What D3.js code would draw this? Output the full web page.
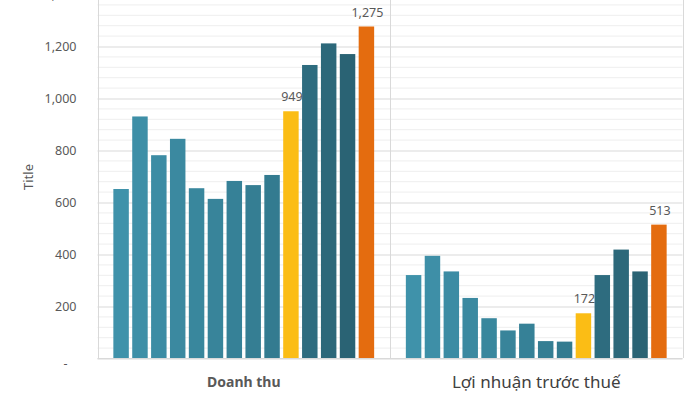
<!DOCTYPE html>
<html>
<head>
<meta charset="utf-8">
<script src="https://d3js.org/d3.v7.min.js"></script>
<style>
  body { margin: 0; background: #fff; }
  svg { display: block; font-family: "Noto Sans", sans-serif; }
</style>
</head>
<body>
<div id="chart"></div>
<script>
// Data
var groups = ["Doanh thu", "Lợi nhuận trước thuế"];
var revenue = [650, 929, 780, 843, 653, 612, 681, 665, 704, 949, 1127, 1210, 1169, 1275];
var profit = [319, 393, 333, 231, 153, 106, 132, 65, 63, 172, 319, 417, 333, 513];
var yTicks = [0, 200, 400, 600, 800, 1000, 1200, 1400];
var labelled = [9, 13]; // bars with a value label

var width = 700, height = 394;
var margin = { top: -6, right: 17.5, bottom: 36, left: 97.5 };
var innerW = width - margin.left - margin.right;

var svg = d3.select("#chart").append("svg")
    .attr("width", width)
    .attr("height", height);

var y = d3.scaleLinear().domain([0, 1400]).range([358, margin.top]);

var x0 = d3.scaleBand()
    .domain(groups)
    .range([margin.left, margin.left + innerW]);

var x1 = d3.scaleBand()
    .domain(d3.range(revenue.length))
    .range([0, x0.bandwidth()])
    .paddingInner(0.18)
    .paddingOuter(0.84);

// bar colours by position
var tealA = d3.interpolateRgb("#3f92aa", "#337b90");
var tealB = d3.interpolateRgb("#2e6c7f", "#2a6374");
function barColor(i) {
    if (i === 9) return "#fbbd15";
    if (i === 13) return "#e46c0f";
    if (i < 9) return tealA(i / 8);
    return tealB((i - 10) / 2);
}

// minor grid lines
var minor = d3.range(0, 1400, 40).filter(function(v) { return v % 200 !== 0; });
svg.append("g").selectAll("line")
    .data(minor)
    .enter().append("line")
    .attr("x1", margin.left).attr("x2", margin.left + innerW)
    .attr("y1", function(d) { return y(d) + 0.5; })
    .attr("y2", function(d) { return y(d) + 0.5; })
    .attr("stroke", "#eeeeee");

// major grid lines + tick labels
var yAxis = d3.axisLeft(y)
    .tickValues(yTicks)
    .tickSize(-innerW)
    .tickPadding(21)
    .tickFormat(function(d) { return d === 0 ? "-" : d3.format(",")(d); });

var gy = svg.append("g")
    .attr("transform", "translate(" + margin.left + ",0.5)")
    .call(yAxis);
gy.select(".domain").remove();
gy.selectAll(".tick line").attr("stroke", "#d9d9d9");
gy.selectAll(".tick text")
    .attr("fill", "#595959")
    .style("font-size", "12.5px")
    .style("font-family", "Noto Sans");
gy.selectAll(".tick").filter(function(d) { return d === 0; }).select("text")
    .attr("dx", -9).attr("dy", "0.7em");

// group separators / frame
svg.append("g").selectAll("line")
    .data([margin.left, margin.left + x0.bandwidth(), margin.left + innerW])
    .enter().append("line")
    .attr("x1", function(d) { return Math.round(d) + 0.5; })
    .attr("x2", function(d) { return Math.round(d) + 0.5; })
    .attr("y1", 0).attr("y2", y(0))
    .attr("stroke", "#d9d9d9");

// bars
var series = [revenue, profit];
var gGroups = svg.append("g").selectAll("g")
    .data(series)
    .enter().append("g")
    .attr("transform", function(d, i) { return "translate(" + x0(groups[i]) + ",0)"; });

gGroups.selectAll("rect")
    .data(function(d) { return d; })
    .enter().append("rect")
    .attr("x", function(d, i) { return x1(i); })
    .attr("y", function(d) { return y(d); })
    .attr("width", x1.bandwidth())
    .attr("height", function(d) { return y(0) - y(d); })
    .attr("fill", function(d, i) { return barColor(i); });

gGroups.selectAll("text.val")
    .data(function(d) { return d.map(function(v, i) { return { v: v, i: i }; })
        .filter(function(o) { return labelled.indexOf(o.i) >= 0; }); })
    .enter().append("text")
    .attr("class", "val")
    .attr("x", function(d) { return x1(d.i) + x1.bandwidth() / 2 + 1; })
    .attr("y", function(d) { return y(d.v) - 10; })
    .attr("text-anchor", "middle")
    .attr("fill", "#595959")
    .style("font-size", "12.5px")
    .text(function(d) { return d3.format(",")(d.v); });

// bottom axis line
svg.append("line")
    .attr("x1", margin.left).attr("x2", margin.left + innerW)
    .attr("y1", y(0) + 0.5).attr("y2", y(0) + 0.5)
    .attr("stroke", "#d9d9d9");

// category labels
svg.append("text")
    .attr("x", x0(groups[0]) + x0.bandwidth() / 2)
    .attr("y", 387)
    .attr("text-anchor", "middle")
    .attr("fill", "#595959")
    .style("font-size", "14px")
    .style("font-weight", "bold")
    .text(groups[0]);

svg.append("text")
    .attr("x", x0(groups[1]) + x0.bandwidth() / 2)
    .attr("y", 388)
    .attr("text-anchor", "middle")
    .attr("fill", "#404040")
    .style("font-size", "17px")
    .text(groups[1]);

// y axis title
svg.append("text")
    .attr("transform", "translate(33,177) rotate(-90)")
    .attr("text-anchor", "middle")
    .attr("fill", "#595959")
    .style("font-size", "13px")
    .text("Title");
</script>
</body>
</html>
